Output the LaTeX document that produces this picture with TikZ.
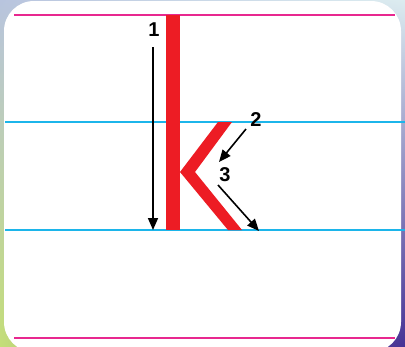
\documentclass[tikz,border=0pt]{standalone}
\usepackage{fontspec}
\setmainfont{Liberation Sans}
\usetikzlibrary{arrows.meta,shadings}
\definecolor{kred}{HTML}{ED1C24}
\definecolor{kpink}{HTML}{E8288F}
\definecolor{kcyan}{HTML}{1CB5EA}
\definecolor{bgul}{RGB}{184,196,222}
\definecolor{bgur}{RGB}{220,236,240}
\definecolor{bgll}{RGB}{196,222,120}
\definecolor{bglr}{RGB}{70,50,150}
\tikzset{
  guidepink/.style={kpink, line width=1.2pt},
  guidecyan/.style={kcyan, line width=1.2pt},
  strokearrow/.style={black, line width=1.6pt, -{Triangle[length=12pt,width=10pt]}},
  numlabel/.style={font=\bfseries\fontsize{20}{20}\selectfont, inner sep=0pt}
}
\begin{document}
\begin{tikzpicture}[x=1pt,y=-1pt]
\useasboundingbox (0,0) rectangle (405,346);
% background
\shade[upper left=bgul, upper right=bgur, lower left=bgll, lower right=bglr]
  (0,0) rectangle (405,346);
\fill[white, rounded corners=30pt] (4,1) rectangle (401,352);
% guide lines
\draw[guidepink] (14,15) -- (395,15);
\draw[guidecyan] (5,122) -- (405,122);
\draw[guidecyan] (5,230) -- (405,230);
\draw[guidepink] (14,338) -- (395,338);
% letter k
\fill[kred] (166,15) rectangle (180,230);
\fill[kred] (180,172) -- (218,122) -- (232,122) -- (195,172) -- (242,230) -- (228,230) -- cycle;
% labels
\node[numlabel] (n1) at (154,30) {1};
\node[numlabel] (n2) at (256,120) {2};
\node[numlabel] (n3) at (225,174.5) {3};
% arrows
\coordinate (a1s) at (153,47);
\coordinate (a1e) at (153,230);
\coordinate (a2s) at (246,129);
\coordinate (a2e) at (219,162);
\coordinate (a3s) at (218,185);
\coordinate (a3e) at (259,231);
\draw[strokearrow] (a1s) -- (a1e);
\draw[strokearrow] (a2s) -- (a2e);
\draw[strokearrow] (a3s) -- (a3e);
\end{tikzpicture}
\end{document}
